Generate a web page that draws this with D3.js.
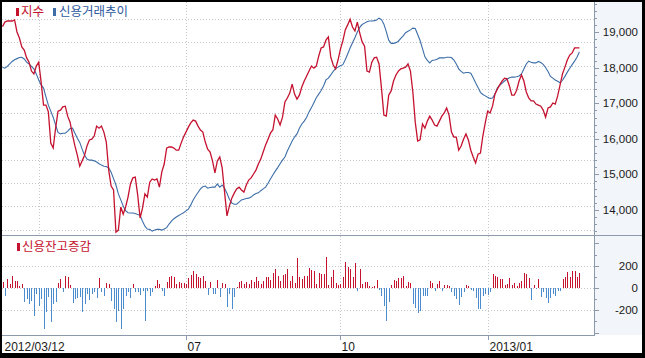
<!DOCTYPE html>
<html>
<head>
<meta charset="utf-8">
<title>지수 / 신용거래추이</title>
<script src="https://cdn.jsdelivr.net/npm/d3@7"></script>
<style>
    body { margin: 0; background: #000; }
    svg { display: block; }
    text { font-family: "Liberation Sans", Arial, sans-serif; font-size: 11.5px; fill: #1a1a1a; }
    .kr { font-family: "Noto Sans CJK KR", sans-serif; font-size: 12.5px; }
    .grid { stroke: #c3c7cc; stroke-width: 1; stroke-dasharray: 1,2; }
    .frame { stroke: #8d9aae; stroke-width: 1; fill: none; }
</style>
</head>
<body>
<svg width="645" height="358"></svg>
<script>
    // ---- data (one value per trading day, 2012/03/12 .. 2013/02/26) ----
    let indexValues = [
        19160, 19290, 19320, 19320, 19320, 19350, 19010, 18840, 18590, 18500,
        18280, 18160, 17910, 17830, 18050, 18160, 17600, 16950, 16950, 16760,
        15880, 15740, 16300, 16780, 16810, 16900, 16920, 16640, 16470, 16110,
        15800, 15540, 15230, 15380, 15540, 15800, 15970, 15990, 16080, 16360,
        16300, 16360, 16190, 15910, 15120, 14670, 14560, 13370, 13430, 14080,
        13880, 14080, 14360, 14730, 14900, 14920, 14420, 13770, 14050, 14450,
        14360, 14780, 14870, 14840, 14870, 14640, 15070, 15290, 15740, 15770,
        15770, 15740, 15680, 15680, 15880, 16050, 16190, 16330, 16450, 16530,
        16500, 16360, 16250, 16190, 15910, 15710, 15630, 15380, 15040, 15380,
        15490, 15180, 14500, 13830, 14110, 14330, 14470, 14590, 14640, 14560,
        14500, 14700, 14840, 14900, 15010, 15120, 15290, 15430, 15630, 15830,
        15990, 16160, 16250, 16670, 16560, 16390, 16610, 17040, 17150, 17290,
        17540, 17260, 17120, 17230, 17460, 17630, 17770, 17910, 18050, 17990,
        18050, 18330, 18560, 18590, 18780, 18870, 18300, 18080, 17970, 18220,
        18530, 18760, 19070, 19210, 19370, 19150, 19040, 19290, 18980, 18730,
        18610, 17910, 17880, 18160, 18280, 18300, 18110, 17430, 16670, 16640,
        17230, 17350, 17630, 17800, 17910, 17970, 17990, 18020, 18110, 17910,
        17320, 16470, 15940, 15970, 16420, 16300, 16500, 16640, 16530, 16390,
        16360, 16500, 16640, 16730, 16870, 16670, 16190, 16050, 16050, 15680,
        15800, 15990, 16140, 15970, 15680, 15490, 15320, 15570, 15600, 16080,
        16450, 16780, 16730, 16920, 17260, 17400, 17520, 17630, 17710, 17690,
        17490, 17230, 17230, 17370, 17630, 17800, 17630, 17320, 17150, 17070,
        17070, 16980, 16950, 16920, 16810, 16610, 16870, 16900, 17010, 16980,
        17210, 17520, 17830, 18020, 18220, 18360, 18420, 18560, 18560, 18560
    ]
    let creditTrend = [
        18020, 17990, 18040, 18110, 18180, 18230, 18260, 18290, 18300, 18250,
        18160, 18110, 18040, 17970, 17830, 17660, 17520, 17430, 17180, 16950,
        16780, 16610, 16390, 16180, 16140, 16160, 16160, 16220, 16290, 16300,
        16160, 16020, 15900, 15710, 15540, 15430, 15400, 15400, 15380, 15350,
        15300, 15260, 15230, 15220, 15180, 15060, 14880, 14700, 14450, 14280,
        14110, 13980, 13920, 13910, 13910, 13900, 13870, 13850, 13680, 13540,
        13460, 13450, 13400, 13430, 13450, 13450, 13430, 13460, 13500, 13600,
        13680, 13750, 13800, 13840, 13880, 13920, 13970, 14020, 14140, 14280,
        14390, 14490, 14590, 14650, 14670, 14610, 14630, 14640, 14640, 14730,
        14640, 14700, 14610, 14470, 14300, 14190, 14160, 14160, 14220, 14280,
        14300, 14320, 14330, 14360, 14420, 14460, 14480, 14540, 14590, 14640,
        14750, 14870, 14980, 15090, 15190, 15300, 15400, 15490, 15660, 15800,
        15940, 16050, 16140, 16300, 16420, 16500, 16610, 16760, 16880, 17020,
        17160, 17260, 17360, 17490, 17660, 17710, 17800, 17900, 17980, 18020,
        18060, 18090, 18230, 18390, 18560, 18710, 18850, 19010, 19140, 19220,
        19260, 19300, 19320, 19320, 19330, 19350, 19400, 19360, 19230, 19020,
        18780, 18690, 18690, 18710, 18750, 18830, 18900, 18990, 19030, 19070,
        19120, 19110, 18940, 18770, 18540, 18310, 18210, 18140, 18210, 18220,
        18240, 18280, 18280, 18280, 18300, 18300, 18290, 18220, 18110, 17970,
        17900, 17850, 17870, 17870, 17850, 17720, 17580, 17450, 17310, 17250,
        17210, 17170, 17140, 17150, 17260, 17430, 17510, 17570, 17630, 17680,
        17720, 17740, 17740, 17750, 17770, 17830, 17970, 18110, 18190, 18160,
        18140, 18140, 18180, 18150, 18100, 18010, 17900, 17760, 17710, 17660,
        17620, 17580, 17650, 17760, 17880, 17990, 18090, 18190, 18300, 18450
    ]
    let creditChange = [
        51, -69, 81, 36, 111, 66, 60, 21, 36, -129,
        -99, -144, -114, -249, -54, -159, -99, -363, -219, -84,
        -303, -144, -129, 42, 81, -39, 111, 96, 30, -135,
        -99, -93, -78, -219, -144, -54, -108, -54, -39, -90,
        87, -39, -69, 42, 36, -114, -189, -309, -204, -363,
        -189, -69, -39, -93, 36, -39, -39, -63, -30, -300,
        -24, -69, -39, 21, 72, 36, -30, -69, 51, 96,
        111, 102, 36, 57, 42, 42, 36, 87, 117, 150,
        126, 96, 87, 111, 66, -60, 57, -54, -54, 72,
        -84, 42, 36, -174, -54, -189, -84, 12, 51, 66,
        36, 51, 36, 75, 57, 96, 66, 36, 66, 102,
        102, 72, 132, 171, 111, 66, 114, 126, 171, 66,
        111, 42, 270, 102, 81, 111, 111, 180, 162, 156,
        36, 132, 126, 126, 282, 30, 96, 162, 42, 30,
        36, 102, 231, 192, 171, 102, 222, -30, 171, 36,
        57, 57, 21, 12, 21, 72, -18, -69, -159, -294,
        -129, 30, 72, 66, 87, 87, 111, 21, 51, 42,
        -144, -180, -228, -204, -69, -69, -69, 66, 42, -30,
        36, 66, -24, 30, 30, 15, -39, -69, -99, -150,
        -78, -39, 30, 21, -18, -24, -90, -189, -189, -69,
        -54, -60, -39, 126, 111, 96, 81, 81, 30, 36,
        87, 30, 42, 21, 42, 66, 135, 126, 90, -108,
        30, -9, 81, -78, -39, -90, -138, -90, -54, -69,
        -30, -24, 81, 96, 141, 96, 156, 156, 102, 135
    ]
    let xLabels = [
        {i: 0, label: "2012/03/12"},
        {i: 76, label: "07"},
        {i: 140, label: "10"},
        {i: 201, label: "2013/01"}
    ]
    let topGridX = [15, 76, 140, 201]
    let bottomGridX = [76, 140, 201]
    let topTicks = [14000, 15000, 16000, 17000, 18000, 19000]
    let topGridY = [19375, 18715, 18055, 17395, 16735, 16075, 15415, 14755, 14095, 13435]
    let bottomTicks = [-200, 0, 200]

    let red = "#c4122f"
    let blue = "#3d6ea8"
    let barBlue = "#4a8ccd"

    //*****************************
    // Step 1 frame and panels
    let svg = d3.select("svg")
    svg.append("rect").attr("x", 0).attr("y", 0).attr("width", 645).attr("height", 358).attr("fill", "#000")
    svg.append("rect").attr("x", 2).attr("y", 2).attr("width", 640).attr("height", 351).attr("fill", "#ffffff")
    svg.append("rect").attr("x", 594.5).attr("y", 2).attr("width", 47.5).attr("height", 333).attr("fill", "#f2f5f9")

    //*****************************
    // Step 2 scales
    let x = d3.scaleLinear().domain([0, indexValues.length - 1]).range([2.5, 579.4])
    let yTop = d3.scaleLinear().domain([13320, 19855]).range([234, 2])
    let yBot = d3.scaleLinear().domain([-421, 466]).range([335, 236])

    //*****************************
    // Step 3 grid lines
    let grid = svg.append("g")
    grid.selectAll(".gty").data(topGridY).enter().append("line")
        .attr("class", "grid")
        .attr("x1", 2).attr("x2", 594)
        .attr("y1", d => Math.round(yTop(d)) + 0.5).attr("y2", d => Math.round(yTop(d)) + 0.5)
    grid.selectAll(".gtx").data(topGridX).enter().append("line")
        .attr("class", "grid")
        .attr("x1", d => Math.round(x(d)) + 0.5).attr("x2", d => Math.round(x(d)) + 0.5)
        .attr("y1", 2).attr("y2", 235)
    grid.selectAll(".gby").data(bottomTicks).enter().append("line")
        .attr("class", "grid")
        .attr("x1", 2).attr("x2", 594)
        .attr("y1", d => Math.round(yBot(d)) + 0.5).attr("y2", d => Math.round(yBot(d)) + 0.5)
    grid.selectAll(".gbx").data(bottomGridX).enter().append("line")
        .attr("class", "grid")
        .attr("x1", d => Math.round(x(d)) + 0.5).attr("x2", d => Math.round(x(d)) + 0.5)
        .attr("y1", 236).attr("y2", 335)

    //*****************************
    // Step 4 bars (신용잔고증감)
    svg.append("g").selectAll("rect").data(creditChange).enter().append("rect")
        .attr("shape-rendering", "crispEdges")
        .attr("x", (d, i) => Math.round(x(i)))
        .attr("width", 1)
        .attr("y", d => d >= 0 ? yBot(d) : yBot(0))
        .attr("height", d => Math.abs(yBot(d) - yBot(0)))
        .attr("fill", d => d >= 0 ? red : barBlue)

    //*****************************
    // Step 5 lines
    let line = d3.line().x((d, i) => x(i)).y(d => yTop(d))
    svg.append("path").datum(creditTrend)
        .attr("d", line).attr("fill", "none").attr("stroke", blue).attr("stroke-width", 1.1)
    svg.append("path").datum(indexValues)
        .attr("d", line).attr("fill", "none").attr("stroke", red).attr("stroke-width", 1.3)

    //*****************************
    // Step 6 axis lines, ticks and labels
    svg.append("line").attr("class", "frame").attr("x1", 2).attr("x2", 642).attr("y1", 235.5).attr("y2", 235.5)
    svg.append("line").attr("class", "frame").attr("x1", 2).attr("x2", 595).attr("y1", 335.5).attr("y2", 335.5)
    svg.append("line").attr("class", "frame").attr("x1", 594.5).attr("x2", 594.5).attr("y1", 2).attr("y2", 336)

    let axis = svg.append("g")
    axis.selectAll(".mt").data(d3.range(13400, 19801, 200)).enter().append("line")
        .attr("class", "frame")
        .attr("x1", 595).attr("x2", d => d % 1000 === 0 ? 599 : 597)
        .attr("y1", d => Math.round(yTop(d)) + 0.5).attr("y2", d => Math.round(yTop(d)) + 0.5)
    axis.selectAll(".mb").data(d3.range(-400, 401, 100)).enter().append("line")
        .attr("class", "frame")
        .attr("x1", 595).attr("x2", d => d % 200 === 0 ? 599 : 597)
        .attr("y1", d => Math.round(yBot(d)) + 0.5).attr("y2", d => Math.round(yBot(d)) + 0.5)
    axis.selectAll(".lt").data(topTicks).enter().append("text")
        .attr("x", 638).attr("y", d => yTop(d) + 4)
        .attr("text-anchor", "end")
        .text(d => d3.format(",")(d))
    axis.selectAll(".lb").data(bottomTicks).enter().append("text")
        .attr("x", 638).attr("y", d => yBot(d) + 4)
        .attr("text-anchor", "end")
        .text(d => d)
    axis.selectAll(".xt").data(xLabels.slice(1)).enter().append("line")
        .attr("class", "frame")
        .attr("x1", d => Math.round(x(d.i)) + 0.5).attr("x2", d => Math.round(x(d.i)) + 0.5)
        .attr("y1", 336).attr("y2", 340)
    axis.selectAll(".xl").data(xLabels).enter().append("text")
        .attr("x", d => Math.round(x(d.i)) + 1.5)
        .attr("y", 351)
        .style("font-size", "12px")
        .text(d => d.label)

    //*****************************
    // Step 7 legends
    let legend = svg.append("g")
    legend.append("rect").attr("x", 16).attr("y", 8).attr("width", 3).attr("height", 8).attr("fill", red)
    legend.append("text").attr("class", "kr").attr("x", 21).attr("y", 16).style("fill", red).text("지수")
    legend.append("rect").attr("x", 53).attr("y", 8).attr("width", 3).attr("height", 8).attr("fill", blue)
    legend.append("text").attr("class", "kr").attr("x", 59).attr("y", 16).style("fill", "#2c5aa0").text("신용거래추이")
    legend.append("rect").attr("x", 17).attr("y", 243).attr("width", 3).attr("height", 8).attr("fill", red)
    legend.append("text").attr("class", "kr").attr("x", 22).attr("y", 251).style("fill", red).text("신용잔고증감")
</script>
</body>
</html>
